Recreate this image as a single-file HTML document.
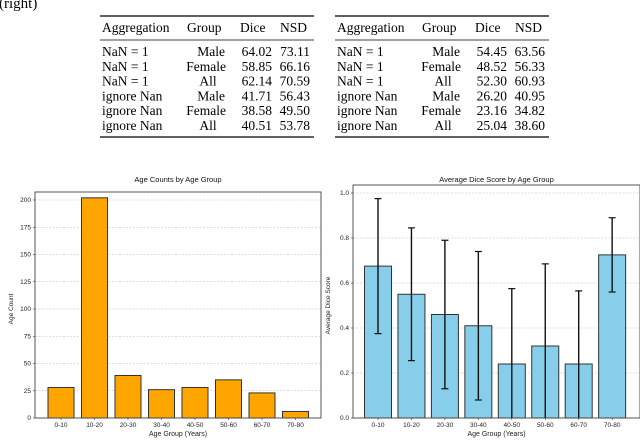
<!DOCTYPE html>
<html><head><meta charset="utf-8">
<style>
html,body{margin:0;padding:0;background:#fff;}
body{width:640px;height:438px;overflow:hidden;position:relative;font-family:"Liberation Serif",serif;}
svg text{font-family:"Liberation Sans",sans-serif;}
</style></head><body>
<svg width="640" height="438" xmlns="http://www.w3.org/2000/svg" id="fig">
<text x="-1" y="8" font-size="15" style="font-family:'Liberation Serif',serif">(right)</text>
<g id="tables"></g>
<g id="left"></g>
<g id="right"></g>
</svg>
<script>
const categories=["0-10","10-20","20-30","30-40","40-50","50-60","60-70","70-80"];
const ageCounts=[28,202,39,26,28,35,23,6];
const countTicks=[0,25,50,75,100,125,150,175,200];
const diceMeans=[0.675,0.55,0.46,0.41,0.24,0.32,0.24,0.725];
const diceErrors=[0.30,0.295,0.33,0.33,0.335,0.365,0.325,0.165];
const diceTicks=[0.0,0.2,0.4,0.6,0.8,1.0];
const tableHeader=["Aggregation","Group","Dice","NSD"];
const tableLeftRows=[["NaN = 1","Male","64.02","73.11"],["NaN = 1","Female","58.85","66.16"],["NaN = 1","All","62.14","70.59"],["ignore Nan","Male","41.71","56.43"],["ignore Nan","Female","38.58","49.50"],["ignore Nan","All","40.51","53.78"]];
const tableRightRows=[["NaN = 1","Male","54.45","63.56"],["NaN = 1","Female","48.52","56.33"],["NaN = 1","All","52.30","60.93"],["ignore Nan","Male","26.20","40.95"],["ignore Nan","Female","23.16","34.82"],["ignore Nan","All","25.04","38.60"]];

const NS="http://www.w3.org/2000/svg";
function mk(tag,attrs,parent,txt){const e=document.createElementNS(NS,tag);for(const k in attrs)e.setAttribute(k,attrs[k]);if(txt!==undefined)e.textContent=txt;parent.appendChild(e);return e;}

function drawTable(x0,rows,name){
  const g=mk('g',{},document.getElementById('tables'));
  
  
  const w=214;
  mk('line',{x1:x0,x2:x0+w,y1:16,y2:16,stroke:'#000','stroke-width':1.3},g);
  mk('line',{x1:x0,x2:x0+w,y1:40,y2:40,stroke:'#000','stroke-width':0.8},g);
  mk('line',{x1:x0,x2:x0+w,y1:137,y2:137,stroke:'#000','stroke-width':1.3},g);
  const st='font-family:"Liberation Serif",serif;font-size:13.5px';
  const hx=[x0+2,x0+87,x0+140,x0+180];
  tableHeader.forEach((h,i)=>{const t=mk('text',{x:hx[i],y:32,style:st},g,h);});
  rows.forEach((r,j)=>{
    const y=56+j*14.8;
    const cells=[[x0+2,'start'],[x0+126,'end'],[x0+172,'end'],[x0+210,'end']];
    r.forEach((c,i)=>{
      let x=cells[i][0],a=cells[i][1];
      if(i===1&&(c==='All')){x=x0+108;a='middle';}
      else if(i===1&&c==='Male'){x=x0+125;}
      const t=mk('text',{x:x,y:y,'text-anchor':a,style:st},g,c);
      
      
    });
  });
}
drawTable(100,tableLeftRows,'table-left');
drawTable(335,tableRightRows,'table-right');

function drawChart(gid,o){
  const g=document.getElementById(gid);
  const yS=v=>o.y0-(v-o.vmin)/(o.vmax-o.vmin)*(o.y0-o.yTop);
  const xS=i=>o.c0+i*o.step;
  o.ticks.forEach(t=>{
    const y=yS(t);
    const gl=mk('line',{x1:o.L,x2:o.R,y1:y,y2:y,stroke:'#bbb','stroke-width':0.6,'stroke-dasharray':'2,1.5'},g);
    
    
    mk('line',{x1:o.L-2,x2:o.L,y1:y,y2:y,stroke:'#333','stroke-width':0.6},g);
    const tl=mk('text',{x:o.L-4,y:y+2,'font-size':6.5,'text-anchor':'end',fill:'#222'},g,o.fmt(t));
    
    
  });
  o.vals.forEach((v,i)=>{
    const x=xS(i)-o.bw/2,y=yS(v);
    const b=mk('rect',{x:x,y:y,width:o.bw,height:o.y0-y,fill:o.color,stroke:'#333','stroke-width':1},g);
    
    
    const tl=mk('text',{x:xS(i),y:o.y0+9,'font-size':6.5,'text-anchor':'middle',fill:'#222'},g,categories[i]);
    
    
    mk('line',{x1:xS(i),x2:xS(i),y1:o.y0,y2:o.y0+2,stroke:'#333','stroke-width':0.6},g);
  });
  if(o.errs){
    o.vals.forEach((v,i)=>{
      const hi=Math.min(o.vmax,v+o.errs[i]),lo=Math.max(o.vmin,v-o.errs[i]);
      const x=xS(i);
      const e=mk('line',{x1:x,x2:x,y1:yS(hi),y2:yS(lo),stroke:'#111','stroke-width':1.4},g);
      
      
      mk('line',{x1:x-3.5,x2:x+3.5,y1:yS(hi),y2:yS(hi),stroke:'#111','stroke-width':1.2},g);
      if(v-o.errs[i]>=o.vmin) mk('line',{x1:x-3.5,x2:x+3.5,y1:yS(lo),y2:yS(lo),stroke:'#111','stroke-width':1.2},g);
    });
  }
  const f=mk('rect',{x:o.L,y:o.yTop-8,width:o.R-o.L,height:o.y0-o.yTop+8,fill:'none',stroke:'#444','stroke-width':0.9},g);
  
  
  const t=mk('text',{x:(o.L+o.R)/2,y:182,'font-size':7.5,'text-anchor':'middle',fill:'#111'},g,o.title);
  
  
  const xl=mk('text',{x:(o.L+o.R)/2,y:436,'font-size':7,'text-anchor':'middle',fill:'#222'},g,'Age Group (Years)');
  
  
  const cy=(o.yTop+o.y0)/2;
  const yl=mk('text',{x:o.yLabX,y:cy,'font-size':6.5,'text-anchor':'middle',fill:'#222',transform:`rotate(-90 ${o.yLabX} ${cy})`},g,o.ylabel);
  
  
}
drawChart('left',{L:35,R:321,y0:418,yTop:200,vmin:0,vmax:200,c0:61,step:33.5,bw:26,vals:ageCounts,ticks:countTicks,fmt:t=>String(t),color:'#FFA500',title:'Age Counts by Age Group',ylabel:'Age Count',yLabX:13});
drawChart('right',{L:353,R:640,y0:418,yTop:193,vmin:0,vmax:1,c0:378,step:33.45,bw:27,vals:diceMeans,errs:diceErrors,ticks:diceTicks,fmt:t=>t.toFixed(1),color:'#87CEEB',title:'Average Dice Score by Age Group',ylabel:'Average Dice Score',yLabX:330});
</script>
</body></html>
